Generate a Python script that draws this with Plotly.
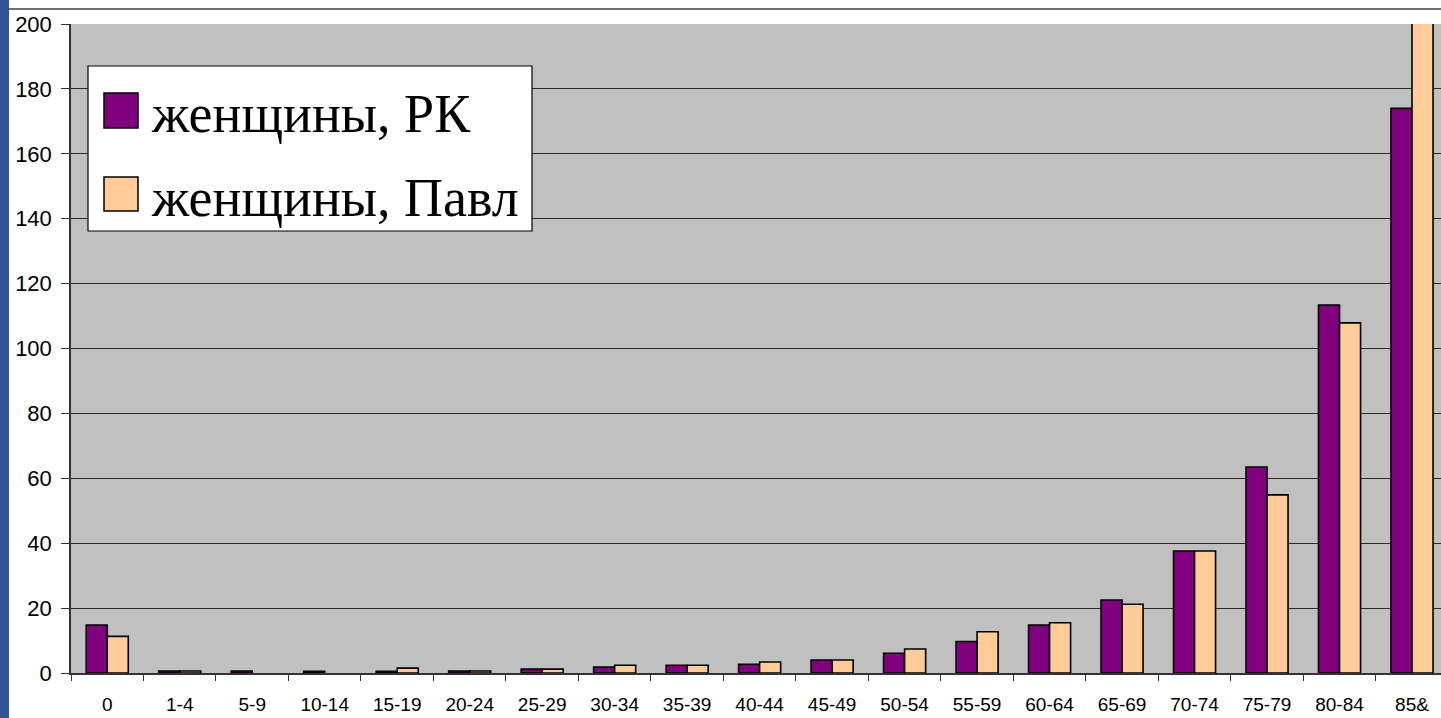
import plotly.graph_objects as go

categories = ["0", "1-4", "5-9", "10-14", "15-19", "20-24", "25-29", "30-34", "35-39",
              "40-44", "45-49", "50-54", "55-59", "60-64", "65-69", "70-74", "75-79",
              "80-84", "85&"]
women_rk = [14.8, 0.6, 0.6, 0.5, 0.5, 0.6, 1.2, 1.8, 2.4, 2.7, 4.0, 6.1, 9.7, 14.8,
            22.5, 37.6, 63.5, 113.4, 174.0]
women_pavl = [11.3, 0.6, None, None, 1.5, 0.6, 1.2, 2.4, 2.4, 3.4, 4.0, 7.4, 12.7, 15.5,
              21.2, 37.6, 54.9, 107.9, 215.0]
series_names = ["женщины, РК", "женщины, Павл"]
series_colors = ["#800080", "#FFCC99"]
y_ticks = list(range(0, 201, 20))

W, H = 1441, 718
L, R, T, B = 71, 0, 24, 45
PW, PH = W - L - R, H - T - B


def px(x):
    return (x - L) / PW


def py(y):
    return (H - B - y) / PH


fig = go.Figure()
for name, vals, col in zip(series_names, [women_rk, women_pavl], series_colors):
    fig.add_trace(go.Bar(x=categories, y=vals, name=name,
                         marker=dict(color=col, line=dict(color="black", width=1.6))))

shapes = [
    # left blue strip
    dict(type="rect", xref="paper", yref="paper", x0=px(0), x1=px(9), y0=py(H), y1=py(0),
         fillcolor="#2F5592", line=dict(width=0), layer="below"),
    # top rule
    dict(type="line", xref="paper", yref="paper", x0=px(9), x1=px(W), y0=py(9), y1=py(9),
         line=dict(color="#404040", width=1.5)),
    # legend box
    dict(type="rect", xref="paper", yref="paper", x0=px(88), x1=px(532), y0=py(231), y1=py(66),
         fillcolor="white", line=dict(color="black", width=1.2), layer="above"),
]
annotations = []
rows = [(93, 128), (177, 211)]
for (top, bot), name, col in zip(rows, series_names, series_colors):
    shapes.append(dict(type="rect", xref="paper", yref="paper", x0=px(104), x1=px(138),
                       y0=py(bot), y1=py(top), fillcolor=col,
                       line=dict(color="black", width=1.5), layer="above"))
    annotations.append(dict(xref="paper", yref="paper", x=px(149), y=py((top + bot) / 2 + 4),
                            xanchor="left", yanchor="middle", showarrow=False, text=name,
                            font=dict(family="Liberation Serif, Times New Roman, serif",
                                      size=54, color="black")))

fig.update_layout(
    width=W, height=H,
    margin=dict(l=L, r=R, t=T, b=B, pad=0),
    paper_bgcolor="white", plot_bgcolor="#C0C0C0",
    barmode="group", bargap=0.42, bargroupgap=0,
    showlegend=False,
    shapes=shapes, annotations=annotations,
    font=dict(family="Liberation Sans, Arial, sans-serif", color="black"),
)
fig.update_xaxes(
    range=[-0.5, 18.4], tickson="boundaries", ticks="outside", ticklen=6,
    tickcolor="#333333", tickwidth=1.2,
    showline=True, linecolor="#333333", linewidth=1.5, showgrid=False,
    tickfont=dict(size=19), ticklabelstandoff=13,
)
fig.update_yaxes(
    range=[0, 200], tickvals=y_ticks, ticks="outside", ticklen=8,
    tickcolor="#333333", tickwidth=1.2,
    showline=True, linecolor="#333333", linewidth=1.5,
    showgrid=True, gridcolor="#2a2a2a", gridwidth=1.4,
    tickfont=dict(size=22), ticklabelstandoff=5, zeroline=False,
)
fig.write_html("out.html", config={"displayModeBar": False},
               post_script="document.body.style.margin='0';document.body.style.padding='0';")
